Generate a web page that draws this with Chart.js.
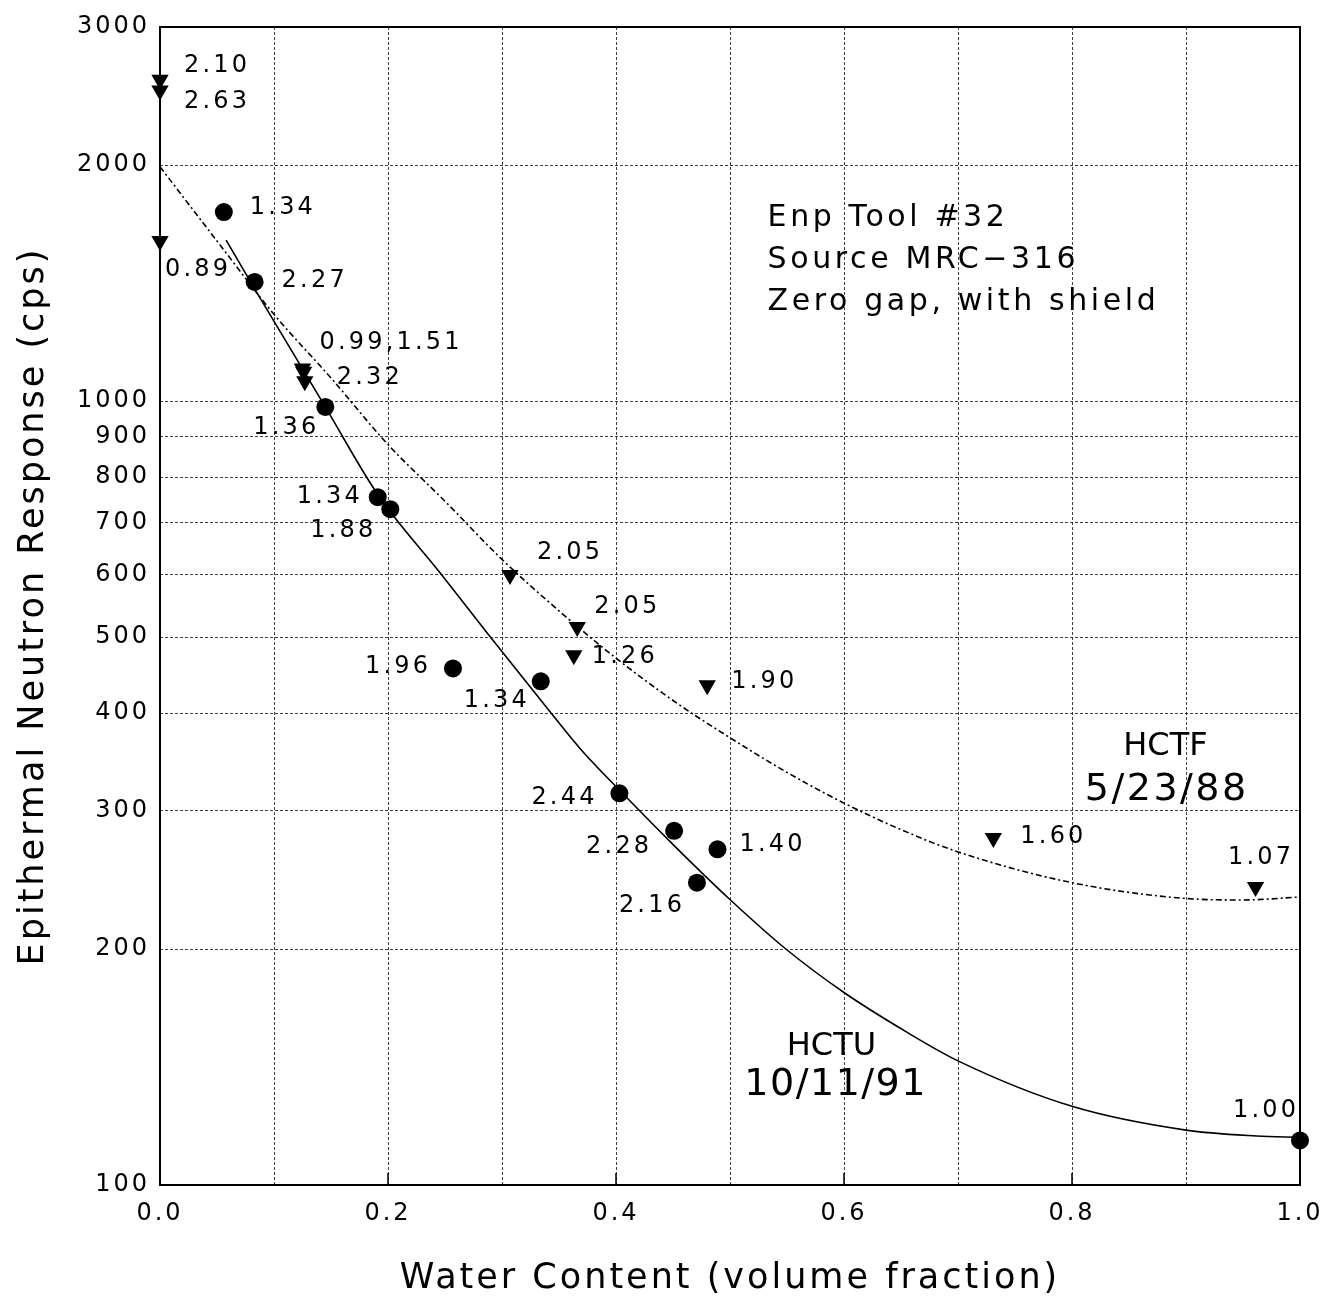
<!DOCTYPE html>
<html>
<head>
<meta charset="utf-8">
<title>Epithermal Neutron Response vs Water Content</title>
<script src="https://cdn.jsdelivr.net/npm/chart.js@4.4.0/dist/chart.umd.min.js"></script>
<style>
  html, body { margin: 0; padding: 0; background: #fff; }
  #wrap { width: 1326px; height: 1304px; }
  canvas { display: block; }
</style>
</head>
<body>
<div id="wrap"><canvas id="chart" width="1326" height="1304"></canvas></div>
<script>
// ===============================
// DATA
// ===============================
const xTicks = [0, 0.1, 0.2, 0.3, 0.4, 0.5, 0.6, 0.7, 0.8, 0.9, 1.0];
const xTickLabels = ["0.0", "", "0.2", "", "0.4", "", "0.6", "", "0.8", "", "1.0"];
const yTicks = [100, 200, 300, 400, 500, 600, 700, 800, 900, 1000, 2000, 3000];
const yTickLabels = ["100", "200", "300", "400", "500", "600", "700", "800", "900", "1000", "2000", "3000"];

// HCTU 10/11/91 - circles
const hctuX = [0.056, 0.083, 0.145, 0.191, 0.202, 0.257, 0.334, 0.403, 0.451, 0.471, 0.489, 1.0];
const hctuY = [1742, 1419, 983, 754, 728, 456, 439, 316, 283, 243, 268, 114];
const hctuLabels = ["1.34", "2.27", "1.36", "1.34", "1.88", "1.96", "1.34", "2.44", "2.28", "2.16", "1.40", "1.00"];

// HCTF 5/23/88 - triangles
const hctfX = [0, 0, 0, 0.125, 0.126, 0.127, 0.307, 0.366, 0.363, 0.480, 0.731, 0.961];
const hctfY = [2570, 2490, 1600, 1100, 1090, 1060, 600, 515, 474, 434, 277, 240];
const hctfLabels = ["2.10", "2.63", "0.89", "0.99,1.51", "", "2.32", "2.05", "2.05", "1.26", "1.90", "1.60", "1.07"];

// fitted curves
const hctuFitX = [0.058, 0.083, 0.145, 0.191, 0.246, 0.287, 0.336, 0.368, 0.403, 0.451, 0.499, 0.549, 0.600, 0.654, 0.700, 0.800, 0.900, 0.962, 1.000];
const hctuFitY = [1604, 1390, 983, 760, 603, 506, 412, 361, 319, 271, 232, 200, 176, 157, 144, 126, 117.5, 115.5, 115];
const hctfFitX = [0, 0.05, 0.1, 0.15, 0.2, 0.25, 0.3, 0.35, 0.4, 0.45, 0.5, 0.55, 0.6, 0.65, 0.7, 0.8, 0.9, 0.95, 1.0];
const hctfFitY = [1990, 1600, 1290, 1070, 880, 745, 628, 540, 470, 415, 372, 336, 307, 284, 266, 243, 232, 231, 233];

// ===============================
// STYLE / LABEL PLACEMENT
// ===============================
const FONT = '"DejaVu Sans", Verdana, sans-serif';
const SPACING = 3;

// [dx, dy, align] from marker centre
const hctuLabelPos = [[26, -4, "left"], [27, -1, "left"], [-9, 21, "right"], [-18, 0, "right"],
  [-17, 22, "right"], [-25, -2, "right"], [-14, 19, "right"], [-25, 4, "right"],
  [-25, 16, "right"], [-15, 23, "right"], [22, -5, "left"], [-4, -30, "right"]];
const hctfLabelPos = [[24, -14, "left"], [24, 11, "left"], [5, 29, "left"], [17, -26, "left"],
  [0, 0, "left"], [32, -3, "left"], [27, -22, "left"], [17, -20, "left"], [18, 2, "left"],
  [24, -3, "left"], [27, -1, "left"], [4, -29, "center"]];

const notes = [
  { text: "Enp Tool #32", x: 0.533, y: 1712, align: "left", size: 30, sp: 3.6 },
  { text: "Source MRC\u2212316", x: 0.533, y: 1513, align: "left", size: 30, sp: 3.6 },
  { text: "Zero gap, with shield", x: 0.533, y: 1338, align: "left", size: 30, sp: 3.6 },
  { text: "HCTF", x: 0.882, y: 362, align: "center", size: 32, sp: 0 },
  { text: "5/23/88", x: 0.882, y: 319, align: "center", size: 38, sp: 2.5 },
  { text: "HCTU", x: 0.589, y: 150, align: "center", size: 32, sp: 0 },
  { text: "10/11/91", x: 0.592, y: 134, align: "center", size: 38, sp: 1.5 }
];

function pts(xs, ys) {
  return xs.map((x, i) => ({ x, y: ys[i] }));
}

function drawText(ctx, text, x, y, align, size, sp) {
  ctx.save();
  ctx.font = size + "px " + FONT;
  ctx.fillStyle = "#000";
  ctx.textBaseline = "middle";
  ctx.textAlign = align;
  ctx.letterSpacing = sp + "px";
  // canvas adds spacing after the last glyph too
  const shift = align === "right" ? sp : align === "center" ? sp / 2 : 0;
  ctx.fillText(text, x + shift, y);
  ctx.restore();
}

// keep the plot box exactly where the layout padding puts it
function noEdgePadding(s) {
  s.paddingLeft = 0;
  s.paddingRight = 0;
  s.paddingTop = 0;
  s.paddingBottom = 0;
}

// ===============================
// PLUGINS
// ===============================
const spacingPlugin = {
  id: "spacing",
  beforeDraw(chart) { chart.ctx.letterSpacing = SPACING + "px"; }
};

const framePlugin = {
  id: "frame",
  afterDatasetsDraw(chart) {
    const { ctx, chartArea: a } = chart;
    const sx = chart.scales.x;
    ctx.save();
    ctx.lineWidth = 2;
    ctx.strokeStyle = "#000";
    ctx.setLineDash([]);
    ctx.strokeRect(a.left, a.top, a.right - a.left, a.bottom - a.top);
    // short inward ticks on the labelled x positions
    ctx.lineWidth = 1.5;
    xTicks.forEach((v, i) => {
      if (!xTickLabels[i] || v === 0 || v === 1) return;
      const px = sx.getPixelForValue(v);
      ctx.beginPath();
      ctx.moveTo(px, a.bottom);
      ctx.lineTo(px, a.bottom - 12);
      ctx.stroke();
    });
    ctx.restore();
  }
};

const labelPlugin = {
  id: "labels",
  afterDraw(chart) {
    const ctx = chart.ctx;
    const sx = chart.scales.x, sy = chart.scales.y;

    [[0, hctuLabels, hctuLabelPos], [1, hctfLabels, hctfLabelPos]].forEach(([di, labels, pos]) => {
      const meta = chart.getDatasetMeta(di);
      meta.data.forEach((el, i) => {
        if (!labels[i]) return;
        const [dx, dy, align] = pos[i];
        drawText(ctx, labels[i], el.x + dx, el.y + dy, align, 24, 3.2);
      });
    });

    notes.forEach(n => {
      drawText(ctx, n.text, sx.getPixelForValue(n.x), sy.getPixelForValue(n.y), n.align, n.size, n.sp);
    });
  }
};

// ===============================
// CHART
// ===============================
Chart.defaults.font.family = FONT;
Chart.defaults.color = "#000";

const ctx = document.getElementById("chart").getContext("2d");

new Chart(ctx, {
  type: "scatter",
  data: {
    datasets: [
      {
        label: "HCTU 10/11/91",
        data: pts(hctuX, hctuY),
        pointStyle: "circle",
        pointRadius: 9,
        backgroundColor: "#000",
        borderColor: "#000",
        borderWidth: 0,
        clip: false,
        order: 0
      },
      {
        label: "HCTF 5/23/88",
        data: pts(hctfX, hctfY),
        pointStyle: "triangle",
        rotation: 180,
        pointRadius: 10,
        backgroundColor: "#000",
        borderColor: "#000",
        borderWidth: 0,
        clip: false,
        order: 1
      },
      {
        label: "HCTU fit",
        type: "line",
        data: pts(hctuFitX, hctuFitY),
        showLine: true,
        pointRadius: 0,
        borderColor: "#000",
        borderWidth: 1.6,
        cubicInterpolationMode: "monotone",
        fill: false,
        order: 2
      },
      {
        label: "HCTF fit",
        type: "line",
        data: pts(hctfFitX, hctfFitY),
        showLine: true,
        pointRadius: 0,
        borderColor: "#000",
        borderWidth: 1.6,
        borderDash: [6, 3, 2, 3],
        cubicInterpolationMode: "monotone",
        fill: false,
        order: 3
      }
    ]
  },
  options: {
    responsive: false,
    animation: false,
    events: [],
    layout: { padding: { left: 0, right: 26, top: 27, bottom: 0 } },
    plugins: {
      legend: { display: false },
      tooltip: { enabled: false }
    },
    scales: {
      x: {
        type: "linear",
        min: 0,
        max: 1,
        afterBuildTicks: s => { s.ticks = xTicks.map(v => ({ value: v })); },
        afterFit: s => { s.height = 119; noEdgePadding(s); },
        ticks: {
          autoSkip: false,
          maxRotation: 0,
          padding: 14,
          font: { size: 24 },
          callback: (v, i) => xTickLabels[i]
        },
        grid: { color: "rgba(0,0,0,0.75)", lineWidth: 1, drawTicks: false },
        border: { display: false, dash: [3, 2] },
        title: {
          display: true,
          text: "Water Content (volume fraction)",
          font: { size: 35 },
          padding: { top: 0, bottom: 4 }
        }
      },
      y: {
        type: "logarithmic",
        min: 100,
        max: 3000,
        afterBuildTicks: s => { s.ticks = yTicks.map(v => ({ value: v })); },
        afterFit: s => { s.width = 160; noEdgePadding(s); },
        ticks: {
          autoSkip: false,
          padding: 10,
          font: { size: 24 },
          callback: (v, i) => yTickLabels[i]
        },
        grid: { color: "rgba(0,0,0,0.75)", lineWidth: 1, drawTicks: false },
        border: { display: false, dash: [3, 2] },
        title: {
          display: true,
          text: "Epithermal Neutron Response (cps)",
          font: { size: 35 },
          padding: { top: 13, bottom: 0 }
        }
      }
    }
  },
  plugins: [spacingPlugin, framePlugin, labelPlugin]
});
</script>
</body>
</html>
